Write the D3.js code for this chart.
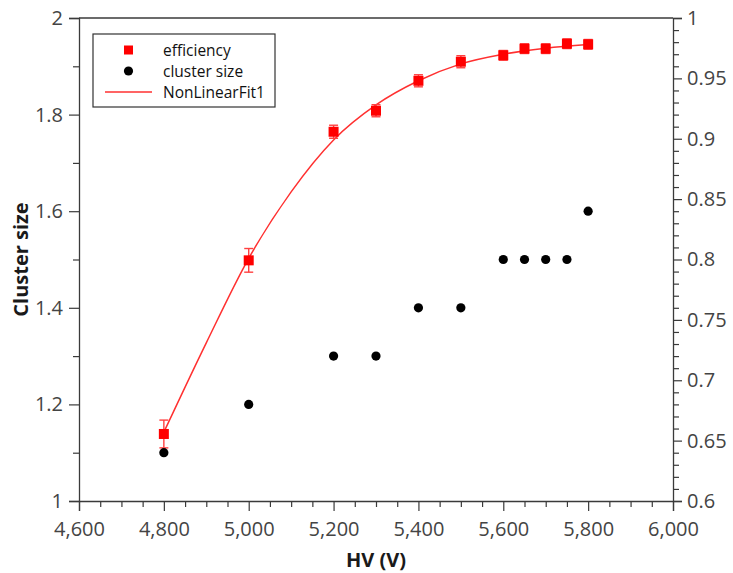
<!DOCTYPE html>
<html>
<head>
<meta charset="utf-8">
<script src="https://cdn.jsdelivr.net/npm/d3@7"></script>
<style>
  body { margin: 0; background: #fff; }
  svg text { font-family: "Open Sans", "Noto Sans", sans-serif; }
</style>
</head>
<body>
<svg id="chart" width="733" height="573"></svg>
<script>
// Measured points: high voltage (V)
const hv = [4800, 5000, 5200, 5300, 5400, 5500, 5600, 5650, 5700, 5750, 5800];
// Efficiency (right axis) with its uncertainty
const efficiency = [0.6555, 0.7993, 0.9058, 0.9232, 0.948, 0.9638, 0.9691, 0.9746, 0.9746, 0.9787, 0.9782];
const efficiencyErr = [0.0115, 0.0098, 0.0054, 0.005, 0.005, 0.005, 0.004, 0.004, 0.004, 0.004, 0.004];
// Cluster size (left axis)
const clusterSize = [1.1, 1.2, 1.3, 1.3, 1.4, 1.4, 1.5, 1.5, 1.5, 1.5, 1.6];
// Non-linear fit of the efficiency, sampled along HV
const fitHV = [4800, 4900, 5000, 5100, 5200, 5300, 5400, 5500, 5600, 5700, 5800];
const fitEfficiency = [0.657, 0.731, 0.801, 0.856, 0.899, 0.928, 0.948, 0.962, 0.970, 0.975, 0.978];
// Tick values
const xTicks = [4600, 4800, 5000, 5200, 5400, 5600, 5800, 6000];
const leftTicks = [1, 1.2, 1.4, 1.6, 1.8, 2];
const rightTicks = [0.6, 0.65, 0.7, 0.75, 0.8, 0.85, 0.9, 0.95, 1];
const legendLabels = ["efficiency", "cluster size", "NonLinearFit1"];

const svg = d3.select("#chart");
const plot = { left: 79, right: 673, top: 18, bottom: 501 };

const x = d3.scaleLinear().domain([4600, 6000]).range([plot.left, plot.right]);
const yLeft = d3.scaleLinear().domain([1, 2]).range([plot.bottom, plot.top]);
const yRight = d3.scaleLinear().domain([0.6, 1]).range([plot.bottom, plot.top]);

const axisColor = "#3a3a3a";
const labelColor = "#444";

function styleAxis(g) {
  g.selectAll("path.domain").attr("stroke", axisColor).attr("stroke-width", 1.3);
  g.selectAll(".tick line").attr("stroke", axisColor).attr("stroke-width", 1.2);
  g.selectAll(".tick text").attr("fill", labelColor).attr("font-size", 20)
    .attr("font-family", "'Open Sans', 'Noto Sans', sans-serif");
}
function minorAxis(g) {
  g.select("path.domain").remove();
  g.selectAll(".tick line").attr("stroke", axisColor).attr("stroke-width", 1.2);
}

// Minor ticks
const xMinor = d3.range(4600, 6001, 50).filter(v => v % 200 !== 0);
svg.append("g").attr("transform", `translate(0,${plot.bottom})`)
  .call(d3.axisBottom(x).tickValues(xMinor).tickSize(6).tickFormat(""))
  .call(minorAxis);
const leftMinor = [1.1, 1.3, 1.5, 1.7, 1.9];
svg.append("g").attr("transform", `translate(${plot.left},0)`)
  .call(d3.axisLeft(yLeft).tickValues(leftMinor).tickSize(6).tickFormat(""))
  .call(minorAxis);
const rightMinor = d3.range(60, 101).map(v => v / 100).filter(v => Math.round(v * 100) % 5 !== 0);
svg.append("g").attr("transform", `translate(${plot.right},0)`)
  .call(d3.axisRight(yRight).tickValues(rightMinor).tickSize(6).tickFormat(""))
  .call(minorAxis);

// Major axes
svg.append("g").attr("transform", `translate(0,${plot.bottom})`)
  .call(d3.axisBottom(x).tickValues(xTicks).tickSize(10).tickPadding(11).tickFormat(d3.format(",")))
  .call(styleAxis);
svg.append("g").attr("transform", `translate(${plot.left},0)`)
  .call(d3.axisLeft(yLeft).tickValues(leftTicks).tickSize(10).tickPadding(6).tickFormat(d3.format("")))
  .call(styleAxis);
svg.append("g").attr("transform", `translate(${plot.right},0)`)
  .call(d3.axisRight(yRight).tickValues(rightTicks).tickSize(9).tickPadding(5).tickFormat(d3.format("")))
  .call(styleAxis);
// Top frame line
svg.append("line")
  .attr("x1", plot.left).attr("x2", plot.right)
  .attr("y1", plot.top).attr("y2", plot.top)
  .attr("stroke", axisColor).attr("stroke-width", 1.3);

// Axis titles
svg.append("text")
  .attr("x", (plot.left + plot.right) / 2).attr("y", 567)
  .attr("text-anchor", "middle").attr("font-size", 20).attr("font-weight", "bold")
  .attr("fill", "#1a1a1a").text("HV (V)");
svg.append("text")
  .attr("transform", `translate(28,259.5) rotate(-90)`)
  .attr("text-anchor", "middle").attr("font-size", 20).attr("font-weight", "bold")
  .attr("fill", "#1a1a1a").text("Cluster size");

const red = "#ff0000";

// Fit curve
const fitLine = d3.line()
  .x((d, i) => x(fitHV[i]))
  .y(d => yRight(d))
  .curve(d3.curveMonotoneX);
svg.append("path")
  .datum(fitEfficiency)
  .attr("d", fitLine)
  .attr("fill", "none")
  .attr("stroke", "#ff3030")
  .attr("stroke-width", 1.5);

// Error bars
const err = svg.append("g").attr("stroke", "#ff4040").attr("stroke-width", 1.4);
hv.forEach((v, i) => {
  const cx = x(v);
  const y1 = yRight(efficiency[i] + efficiencyErr[i]);
  const y2 = yRight(efficiency[i] - efficiencyErr[i]);
  err.append("line").attr("x1", cx).attr("x2", cx).attr("y1", y1).attr("y2", y2);
  err.append("line").attr("x1", cx - 4.5).attr("x2", cx + 4.5).attr("y1", y1).attr("y2", y1);
  err.append("line").attr("x1", cx - 4.5).attr("x2", cx + 4.5).attr("y1", y2).attr("y2", y2);
});

// Efficiency squares
const sq = 10;
svg.append("g").selectAll("rect")
  .data(efficiency)
  .join("rect")
  .attr("x", (d, i) => x(hv[i]) - sq / 2)
  .attr("y", d => yRight(d) - sq / 2)
  .attr("width", sq).attr("height", sq)
  .attr("fill", red);

// Cluster size dots
svg.append("g").selectAll("circle")
  .data(clusterSize)
  .join("circle")
  .attr("cx", (d, i) => x(hv[i]))
  .attr("cy", d => yLeft(d))
  .attr("r", 4.6)
  .attr("fill", "#000");

// Legend
const lg = svg.append("g");
lg.append("rect")
  .attr("x", 93).attr("y", 34).attr("width", 182).attr("height", 73)
  .attr("fill", "#fff").attr("stroke", "#333").attr("stroke-width", 1.2);
const rowY = [50, 71, 92];
lg.append("rect").attr("x", 128.5 - 4.5).attr("y", rowY[0] - 4.5)
  .attr("width", 9).attr("height", 9).attr("fill", red);
lg.append("circle").attr("cx", 128.5).attr("cy", rowY[1]).attr("r", 4.6).attr("fill", "#000");
lg.append("line").attr("x1", 105).attr("x2", 152).attr("y1", rowY[2]).attr("y2", rowY[2])
  .attr("stroke", "#ff3030").attr("stroke-width", 1.5);
lg.selectAll("text.lbl")
  .data(legendLabels)
  .join("text")
  .attr("class", "lbl")
  .attr("x", 163)
  .attr("y", (d, i) => rowY[i])
  .attr("dy", "0.36em")
  .attr("font-size", 15.5)
  .attr("font-family", "'DejaVu Sans', sans-serif")
  .attr("fill", "#111")
  .text(d => d);
</script>
</body>
</html>
